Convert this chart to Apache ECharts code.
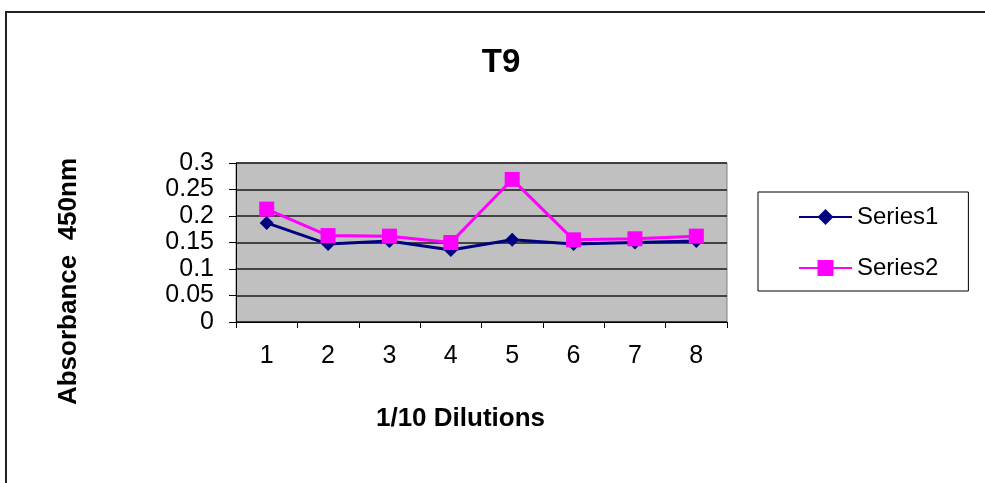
<!DOCTYPE html>
<html>
<head>
<meta charset="utf-8">
<script src="https://cdn.jsdelivr.net/npm/echarts@6/dist/echarts.min.js"></script>
<style>
  html, body { margin: 0; padding: 0; background: #fff; }
  #chart { width: 985px; height: 483px; }
</style>
</head>
<body>
<div id="chart"></div>
<script>
// Absorbance readings at 450nm across eight 1/10 dilution steps
const categories = ['1', '2', '3', '4', '5', '6', '7', '8'];
const series1 = [0.187, 0.147, 0.153, 0.136, 0.155, 0.147, 0.150, 0.153];
const series2 = [0.213, 0.163, 0.162, 0.150, 0.269, 0.155, 0.157, 0.162];
const seriesNames = ['Series1', 'Series2'];

const font = 'Liberation Sans, Arial, sans-serif';
const chart = echarts.init(document.getElementById('chart'), null, { renderer: 'canvas' });

chart.setOption({
  animation: false,
  backgroundColor: '#ffffff',
  title: {
    text: 'T9',
    left: 496,
    top: 41,
    textAlign: 'center',
    textStyle: { fontFamily: font, fontSize: 33, fontWeight: 'bold', color: '#000' }
  },
  graphic: [{
    type: 'rect',
    shape: { x: 6, y: 12, width: 1010, height: 500 },
    style: { fill: 'none', stroke: '#222', lineWidth: 2 },
    silent: true
  }],
  legend: {
    orient: 'vertical',
    left: 758,
    top: 192,
    width: 219,
    padding: [13, 30, 11, 40],
    itemGap: 27,
    itemWidth: 53,
    itemHeight: 20,
    borderColor: '#000',
    borderWidth: 1,
    backgroundColor: '#fff',
    textStyle: { fontFamily: font, fontSize: 24, color: '#000', lineHeight: 24 },
    data: seriesNames
  },
  grid: {
    left: 236,
    right: 258,
    top: 163,
    bottom: 161,
    show: true,
    backgroundColor: '#c0c0c0',
    borderColor: '#808080',
    borderWidth: 1
  },
  xAxis: {
    type: 'category',
    data: categories,
    boundaryGap: true,
    name: '1/10 Dilutions',
    nameLocation: 'middle',
    nameGap: 84,
    nameTextStyle: { fontFamily: font, fontSize: 26, fontWeight: 'bold', color: '#000', padding: [0, 42, 0, 0] },
    axisLine: { show: true, lineStyle: { color: '#000', width: 1 } },
    axisTick: { show: true, alignWithLabel: false, length: 6, lineStyle: { color: '#000' } },
    axisLabel: { fontFamily: font, fontSize: 25, color: '#000', margin: 22 },
    splitLine: { show: false }
  },
  yAxis: {
    type: 'value',
    min: 0,
    max: 0.3,
    interval: 0.05,
    name: 'Absorbance  450nm',
    nameLocation: 'middle',
    nameGap: 154,
    nameRotate: 90,
    nameTextStyle: { fontFamily: font, fontSize: 26, fontWeight: 'bold', color: '#000', padding: [0, 78, 0, 0] },
    axisLine: { show: true, lineStyle: { color: '#000', width: 1 } },
    axisTick: { show: true, length: 7, lineStyle: { color: '#000' } },
    axisLabel: { fontFamily: font, fontSize: 25, color: '#000', margin: 22 },
    splitLine: { show: true, lineStyle: { color: '#1a1a1a', width: 1.5 } }
  },
  series: [
    {
      name: seriesNames[0],
      type: 'line',
      data: series1,
      symbol: 'diamond',
      symbolSize: 14,
      lineStyle: { color: '#000080', width: 3 },
      itemStyle: { color: '#000080', borderWidth: 0 },
      z: 2
    },
    {
      name: seriesNames[1],
      type: 'line',
      data: series2,
      symbol: 'rect',
      symbolSize: 15,
      lineStyle: { color: '#ff00ff', width: 3 },
      itemStyle: { color: '#ff00ff', borderWidth: 0 },
      z: 3
    }
  ]
});
</script>
</body>
</html>
